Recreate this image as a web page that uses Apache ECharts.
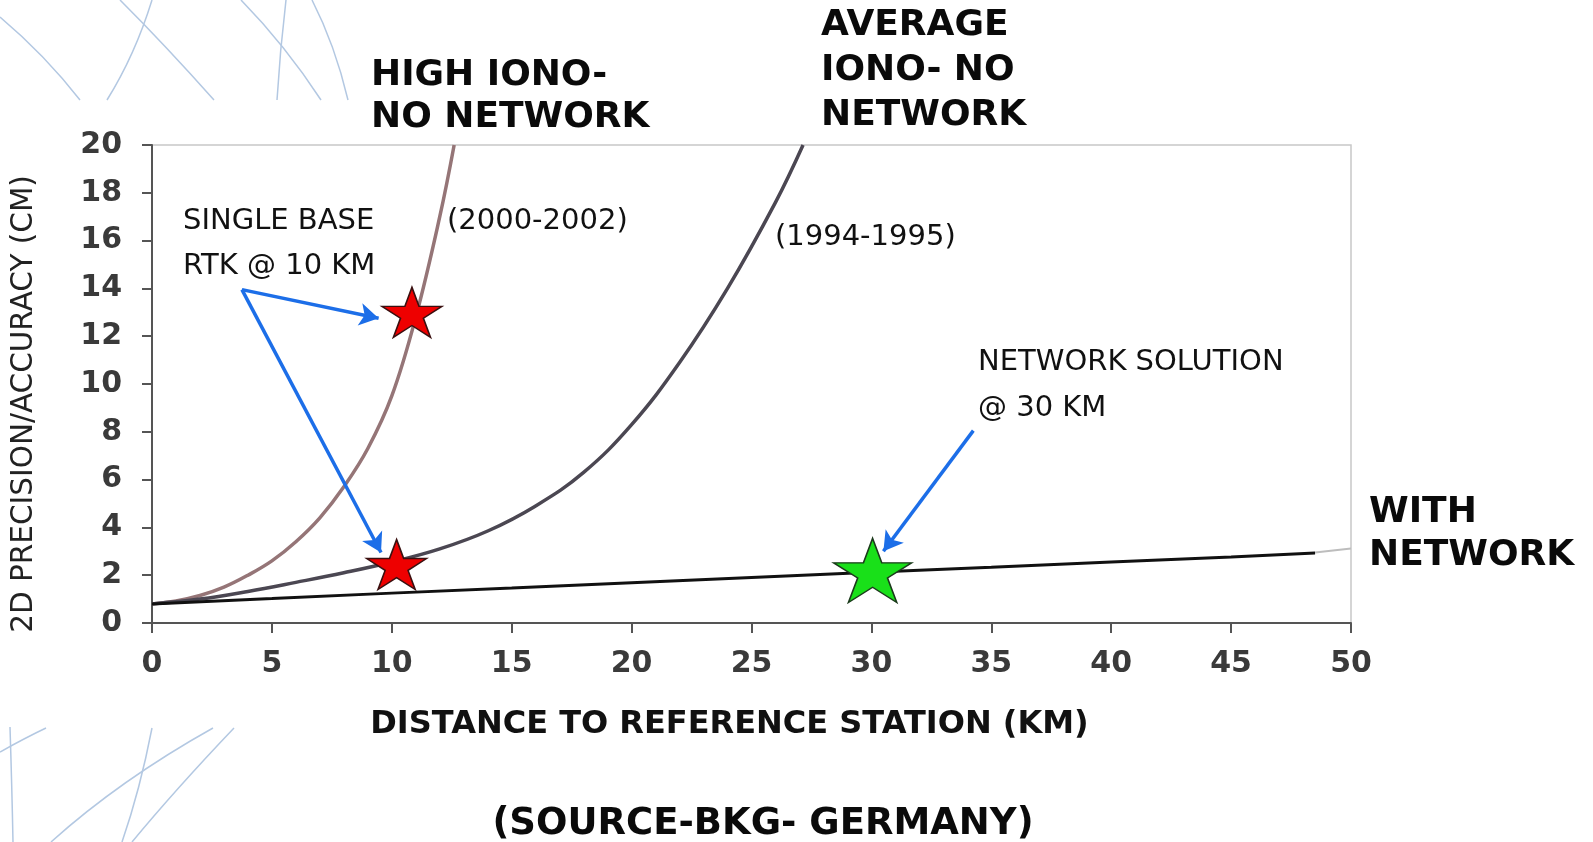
<!DOCTYPE html>
<html>
<head>
<meta charset="utf-8">
<script src="https://cdn.jsdelivr.net/npm/echarts@6/dist/echarts.min.js"></script>
<style>
html,body{margin:0;padding:0;background:#fff;}
#chart{width:1593px;height:842px;}
</style>
</head>
<body>
<div id="chart"></div>
<script>
// ---- data ----
const highIonoData = [[0,0.8],[1,0.92],[2,1.15],[3,1.5],[4,2.0],[5,2.6],[6,3.4],[7,4.4],[8,5.7],[9,7.3],[10,9.5],[11,12.8],[12,17.0],[12.6,20]];
const avgIonoData = [[0,0.8],[2,1.0],[4,1.32],[6,1.7],[8,2.1],[10,2.55],[12,3.1],[14,3.85],[16,4.9],[18,6.3],[20,8.3],[22,10.9],[24,14.0],[26,17.6],[27.15,20]];
const networkData = [[0,0.8],[5,1.02],[10,1.25],[15,1.46],[20,1.68],[25,1.9],[30,2.12],[35,2.33],[40,2.55],[45,2.76],[48.5,2.93]];
const networkExtData = [[48.5,2.95],[50,3.12]];
const singleBaseStars = [[10.84,13.0],[10.2,2.45]];
const networkStar = [[30.05,2.2]];
const arrowLines = [
  [[3.75,13.95],[9.45,12.75]],
  [[3.75,13.95],[9.55,2.95]],
  [[34.25,8.05],[30.5,3.0]]
];
const xRange = [0, 50, 5];
const yRange = [0, 20, 2];

const STAR = 'path://M95.1 0L117.55 69.1L190.2 69.1L131.4 111.8L153.9 180.9L95.1 138.2L36.3 180.9L58.8 111.8L0 69.1L72.65 69.1Z';
const FONT = 'DejaVu Sans';

const chart = echarts.init(document.getElementById('chart'));

function txt(text, x, y, size, weight, extra) {
  return {
    type: 'text', x: x, y: y, z: 10,
    style: Object.assign({
      text: text, fontSize: size, fontWeight: weight, fontFamily: FONT,
      fill: '#111', verticalAlign: 'middle', align: 'left'
    }, extra || {})
  };
}
function deco(x1, y1, cx, cy, x2, y2) {
  return {
    type: 'bezierCurve', z: -1, silent: true,
    shape: {x1: x1, y1: y1, cpx1: cx, cpy1: cy, x2: x2, y2: y2},
    style: {stroke: '#b3c8e2', lineWidth: 1.5, fill: null}
  };
}

const option = {
  animation: false,
  backgroundColor: '#fff',
  grid: {left: 152, right: 242, top: 145, bottom: 219, show: true, borderColor: '#c8c8c8', borderWidth: 1.5},
  xAxis: {
    type: 'value', min: xRange[0], max: xRange[1], interval: xRange[2],
    axisLine: {show: true, onZero: false, lineStyle: {color: '#555', width: 2}},
    axisTick: {show: true, length: 10, lineStyle: {color: '#555', width: 2}},
    splitLine: {show: false},
    axisLabel: {margin: 26, fontSize: 30, fontWeight: 'bold', fontFamily: FONT, color: '#3a3a3a'},
    name: 'DISTANCE TO REFERENCE STATION (KM)', nameLocation: 'middle', nameGap: 86,
    nameTextStyle: {fontSize: 32, fontWeight: 'bold', fontFamily: FONT, color: '#111', padding: [0, 44, 0, 0]}
  },
  yAxis: {
    type: 'value', min: yRange[0], max: yRange[1], interval: yRange[2],
    axisLine: {show: true, onZero: false, lineStyle: {color: '#555', width: 2}},
    axisTick: {show: true, length: 10, lineStyle: {color: '#555', width: 2}},
    splitLine: {show: false},
    axisLabel: {margin: 30, fontSize: 30, fontWeight: 'bold', fontFamily: FONT, color: '#3a3a3a'},
    name: '2D PRECISION/ACCURACY (CM)', nameLocation: 'middle', nameGap: 113,
    nameTextStyle: {fontSize: 29.5, fontFamily: FONT, color: '#222', padding: [0, 40, 0, 0]}
  },
  series: [
    {type: 'line', name: 'High iono (2000-2002)', data: highIonoData, smooth: 0.4, showSymbol: false,
     lineStyle: {color: '#957577', width: 3.5}, z: 2},
    {type: 'line', name: 'Average iono (1994-1995)', data: avgIonoData, smooth: 0.4, showSymbol: false,
     lineStyle: {color: '#4b4752', width: 3.5}, z: 2},
    {type: 'line', name: 'With network', data: networkData, showSymbol: false,
     lineStyle: {color: '#111', width: 3}, z: 3},
    {type: 'line', name: 'With network ext', data: networkExtData, showSymbol: false,
     lineStyle: {color: '#bdbdbd', width: 2}, z: 2},
    {type: 'scatter', name: 'Single base RTK', data: singleBaseStars, symbol: STAR, symbolSize: [60, 50],
     itemStyle: {color: '#ee0000', borderColor: '#3a1010', borderWidth: 1.5, opacity: 1}, z: 5},
    {type: 'scatter', name: 'Network solution', data: networkStar, symbol: STAR, symbolSize: [78, 64],
     itemStyle: {color: '#19e019', borderColor: '#1b3a1b', borderWidth: 1.5, opacity: 1}, z: 5,
     markLine: {
       silent: true, symbol: ['none', 'arrow'], symbolSize: [17, 19],
       label: {show: false},
       lineStyle: {color: '#1c6ee8', width: 3.5, type: 'solid', opacity: 1},
       data: arrowLines.map(function (p) { return [{coord: p[0]}, {coord: p[1]}]; })
     }}
  ],
  graphic: [
    deco(0, 17, 45, 55, 80, 100),
    deco(107, 100, 135, 55, 152, 0),
    deco(120, 0, 165, 45, 214, 100),
    deco(241, 0, 285, 45, 321, 100),
    deco(277, 100, 280, 50, 286, 0),
    deco(312, 0, 335, 45, 348, 100),
    deco(0, 752, 25, 738, 46, 728),
    deco(10, 727, 12, 790, 13, 842),
    deco(152, 728, 140, 790, 122, 842),
    deco(213, 728, 120, 780, 51, 842),
    deco(234, 728, 175, 790, 132, 842),
    txt('HIGH IONO-\nNO NETWORK', 371, 55, 36, 'bold', {verticalAlign: 'top', lineHeight: 42, fill: '#0a0a0a'}),
    txt('AVERAGE\nIONO- NO\nNETWORK', 821, 3, 36, 'bold', {verticalAlign: 'top', lineHeight: 45, fill: '#0a0a0a'}),
    txt('WITH\nNETWORK', 1369, 491, 36, 'bold', {verticalAlign: 'top', lineHeight: 43, fill: '#0a0a0a'}),
    txt('(SOURCE-BKG- GERMANY)', 763, 824, 37, 'bold', {align: 'center', fill: '#0a0a0a'}),
    txt('SINGLE BASE', 183, 221, 29, 'normal'),
    txt('RTK @ 10 KM', 183, 266, 29, 'normal'),
    txt('(2000-2002)', 447, 221, 29, 'normal'),
    txt('(1994-1995)', 775, 237, 29, 'normal'),
    txt('NETWORK SOLUTION', 978, 362, 29, 'normal'),
    txt('@ 30 KM', 978, 408, 29, 'normal')
  ]
};
chart.setOption(option);
</script>
</body>
</html>
